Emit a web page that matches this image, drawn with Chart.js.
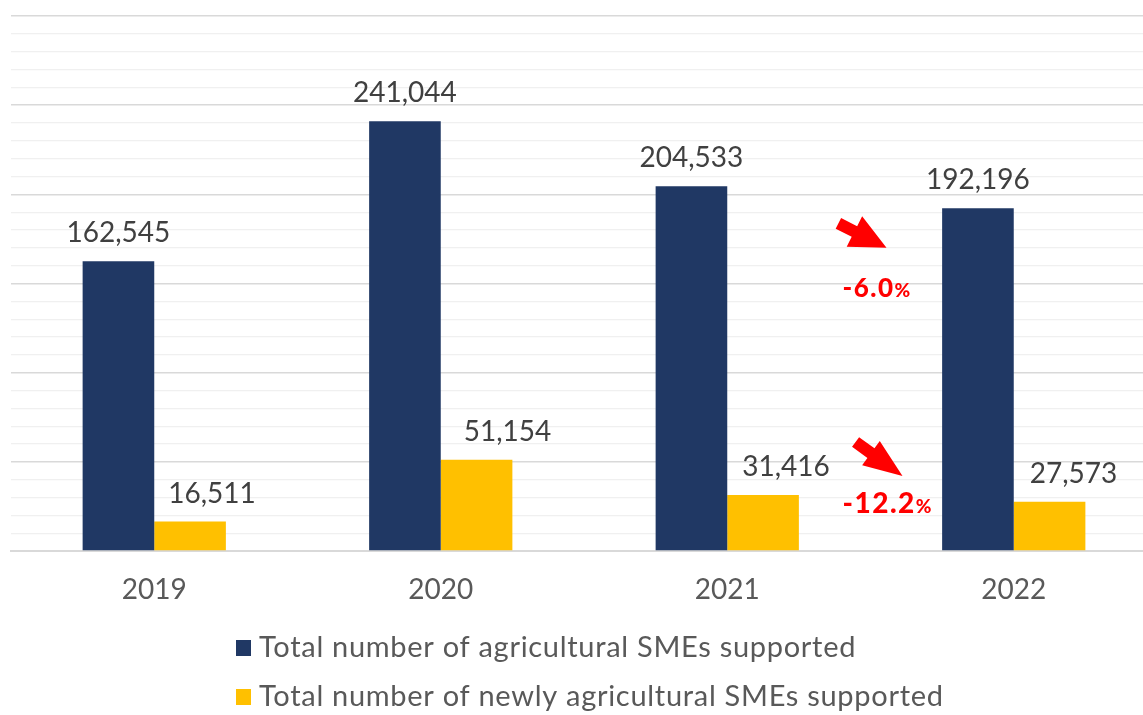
<!DOCTYPE html>
<html>
<head>
<meta charset="utf-8">
<script src="https://cdn.jsdelivr.net/npm/chart.js@4.4.1/dist/chart.umd.min.js"></script>
<style>
  html, body { margin: 0; padding: 0; background: #fff; overflow: hidden; }
  #wrap { width: 1160px; height: 715px; }
</style>
</head>
<body>
<div id="wrap"><canvas id="smeChart" width="1160" height="715"></canvas></div>
<script>
// SME support figures per year
const years = ['2019', '2020', '2021', '2022'];
const totalSupported = [162545, 241044, 204533, 192196];
const newlySupported = [16511, 51154, 31416, 27573];
const seriesNames = [
    'Total number of agricultural SMEs supported',
    'Total number of newly agricultural SMEs supported'
];
const seriesColors = ['#203864', '#FFC000'];

const FONT = 'Lato, "Open Sans", sans-serif';

// year-on-year change between the last two years, one per series
const pctChange = (arr) => ((arr[arr.length - 1] - arr[arr.length - 2]) / arr[arr.length - 2] * 100).toFixed(1);

// value labels above each bar; the small-bar labels are nudged right off the tall bars
const labelNudge = [[0, 0, 0, 0], [22, 31, 23, 24]];
const valueLabels = {
    id: 'valueLabels',
    afterDatasetsDraw(chart) {
        const { ctx } = chart;
        ctx.save();
        ctx.font = '28px ' + FONT;
        ctx.fillStyle = '#404040';
        ctx.textAlign = 'center';
        ctx.textBaseline = 'alphabetic';
        chart.data.datasets.forEach((ds, i) => {
            chart.getDatasetMeta(i).data.forEach((bar, j) => {
                ctx.fillText(ds.data[j].toLocaleString('en-US'), bar.x + labelNudge[i][j], bar.y - 19);
            });
        });
        ctx.restore();
    }
};

function drawArrow(ctx, tipX, tipY, angleDeg, len, headLen, headHalf) {
    const shaftHalf = 6;
    ctx.save();
    ctx.translate(tipX, tipY);
    ctx.rotate(angleDeg * Math.PI / 180);
    ctx.beginPath();
    ctx.moveTo(0, 0);
    ctx.lineTo(-headLen, -headHalf);
    ctx.lineTo(-headLen, -shaftHalf);
    ctx.lineTo(-len, -shaftHalf);
    ctx.lineTo(-len, shaftHalf);
    ctx.lineTo(-headLen, shaftHalf);
    ctx.lineTo(-headLen, headHalf);
    ctx.closePath();
    ctx.fillStyle = '#FF0000';
    ctx.fill();
    ctx.restore();
}

function drawPct(ctx, x, y, num, bigSize, smallSize, spacing) {
    ctx.save();
    ctx.fillStyle = '#FF0000';
    ctx.textAlign = 'left';
    ctx.textBaseline = 'alphabetic';
    ctx.letterSpacing = spacing + 'px';
    ctx.font = '900 ' + bigSize + 'px ' + FONT;
    ctx.fillText(num, x, y);
    const w = ctx.measureText(num).width;
    ctx.letterSpacing = '0px';
    ctx.font = '900 ' + smallSize + 'px ' + FONT;
    ctx.fillText('%', x + w, y);
    ctx.restore();
}

// red decline markers between 2021 and 2022
const changeMarkers = {
    id: 'changeMarkers',
    afterDatasetsDraw(chart) {
        const { ctx, scales: { x, y } } = chart;
        const mid = (x.getPixelForValue(2) + x.getPixelForValue(3)) / 2;
        drawArrow(ctx, mid + 16, y.getPixelForValue(170000), 27, 54, 36, 17);
        drawPct(ctx, mid - 28, y.getPixelForValue(142500), pctChange(totalSupported), 26, 19, 1.5);
        drawArrow(ctx, mid + 32, y.getPixelForValue(42000), 36, 58, 39, 15);
        drawPct(ctx, mid - 28, y.getPixelForValue(21300), pctChange(newlySupported), 28, 19, 1.5);
    }
};

// stacked legend under the axis
const bottomLegend = {
    id: 'bottomLegend',
    afterDraw(chart) {
        const { ctx } = chart;
        const rows = [648, 697];
        ctx.save();
        ctx.font = '29px ' + FONT;
        ctx.letterSpacing = '0.7px';
        ctx.textBaseline = 'middle';
        ctx.textAlign = 'left';
        chart.data.datasets.forEach((ds, i) => {
            ctx.fillStyle = ds.backgroundColor;
            ctx.fillRect(236, rows[i] - 8, 15, 16);
            ctx.fillStyle = '#595959';
            ctx.fillText(ds.label, 259, rows[i]);
        });
        ctx.restore();
    }
};

new Chart(document.getElementById('smeChart'), {
    type: 'bar',
    data: {
        labels: years,
        datasets: [
            { label: seriesNames[0], data: totalSupported, backgroundColor: seriesColors[0] },
            { label: seriesNames[1], data: newlySupported, backgroundColor: seriesColors[1] }
        ]
    },
    options: {
        responsive: false,
        animation: false,
        layout: { padding: { left: 11, right: 3, top: 16, bottom: 0 } },
        datasets: { bar: { categoryPercentage: 0.5, barPercentage: 1.0 } },
        plugins: {
            legend: { display: false },
            tooltip: { enabled: false }
        },
        scales: {
            x: {
                grid: { display: false, drawTicks: false },
                border: { display: true, color: '#d9d9d9', width: 2 },
                ticks: { color: '#595959', font: { family: FONT, size: 28 }, padding: 22 },
                afterFit: (s) => { s.height = 164; }
            },
            y: {
                min: 0,
                max: 300000,
                border: { display: false },
                grid: {
                    drawTicks: false,
                    color: (c) => c.tick.value % 50000 === 0 ? '#d9d9d9' : '#f0f0f0',
                    lineWidth: (c) => c.tick.value % 50000 === 0 ? 1.5 : 1.2
                },
                ticks: { display: false, stepSize: 10000 },
                afterFit: (s) => { s.width = 0; }
            }
        }
    },
    plugins: [valueLabels, changeMarkers, bottomLegend]
});
</script>
</body>
</html>
